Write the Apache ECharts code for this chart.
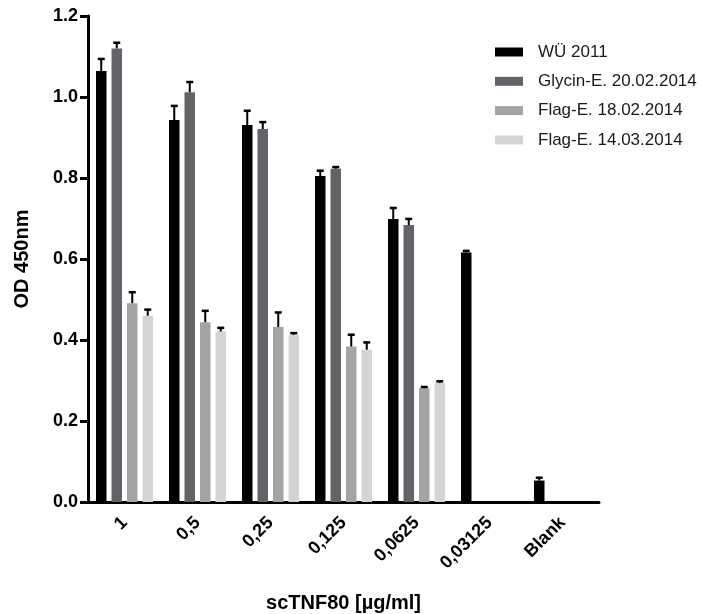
<!DOCTYPE html>
<html>
<head>
<meta charset="utf-8">
<script src="https://cdn.jsdelivr.net/npm/echarts@6/dist/echarts.min.js"></script>
<style>
  html, body { margin: 0; padding: 0; background: #fff; }
  #chart { width: 702px; height: 614px; }
</style>
</head>
<body>
<div id="chart"></div>
<script>
// Concentrations of scTNF80 on the x axis
const categories = ['1', '0,5', '0,25', '0,125', '0,0625', '0,03125', 'Blank'];

// Series names
const seriesNames = ['WÜ 2011', 'Glycin-E. 20.02.2014', 'Flag-E. 18.02.2014', 'Flag-E. 14.03.2014'];

// Mean OD 450nm values and their upper error (SD)
const wu2011     = [1.064, 0.943, 0.931, 0.805, 0.699, 0.616, 0.053];
const wu2011Err  = [0.030, 0.035, 0.035, 0.013, 0.027, 0.004, 0.007];
const glycin     = [1.120, 1.012, 0.921, 0.823, 0.684, null, null];
const glycinErr  = [0.014, 0.025, 0.017, 0.004, 0.015, null, null];
const flag18     = [0.491, 0.444, 0.432, 0.384, 0.281, null, null];
const flag18Err  = [0.027, 0.028, 0.036, 0.029, 0.003, null, null];
const flag14     = [0.460, 0.421, 0.413, 0.376, 0.294, null, null];
const flag14Err  = [0.015, 0.009, 0.004, 0.018, 0.004, null, null];

// Y ticks
const yMin = 0, yMax = 1.2, yStep = 0.2;

const means = [wu2011, glycin, flag18, flag14];
const errs = [wu2011Err, glycinErr, flag18Err, flag14Err];
const colors = ['#000000', '#646468', '#a4a4a4', '#d4d4d4'];

const BAR_W = 10.5;
const BAR_GAP = 5;
const FONT = '"Liberation Sans", Arial, Helvetica, sans-serif';

const chart = echarts.init(document.getElementById('chart'), null, { renderer: 'canvas' });

const barSeries = means.map((vals, i) => ({
  name: seriesNames[i],
  type: 'bar',
  data: vals,
  barWidth: BAR_W,
  barGap: (BAR_GAP / BAR_W * 100).toFixed(1) + '%',
  itemStyle: { color: colors[i] },
  z: 2
}));

// Upward error bars with a cap, placed over each bar of the group
const errSeries = means.map((vals, i) => {
  const data = [];
  vals.forEach((v, k) => {
    if (v != null && errs[i][k] != null) data.push([k, v, errs[i][k]]);
  });
  const offset = (i - (means.length - 1) / 2) * (BAR_W + BAR_GAP);
  return {
    type: 'custom',
    name: seriesNames[i] + ' SD',
    data: data,
    encode: { x: 0, y: 1 },
    z: 3,
    silent: true,
    renderItem: function (params, api) {
      const k = api.value(0);
      const base = api.coord([k, api.value(1)]);
      const top = api.coord([k, api.value(1) + api.value(2)]);
      const x = base[0] + offset;
      const capHalf = 3.5;
      return {
        type: 'group',
        children: [
          { type: 'line', shape: { x1: x, y1: base[1], x2: x, y2: top[1] },
            style: { stroke: '#000', lineWidth: 2 } },
          { type: 'line', shape: { x1: x - capHalf, y1: top[1], x2: x + capHalf, y2: top[1] },
            style: { stroke: '#000', lineWidth: 2.5 } }
        ]
      };
    }
  };
});

const option = {
  animation: false,
  backgroundColor: '#fff',
  grid: { left: 88, right: 103, top: 16, bottom: 112, containLabel: false, outerBoundsMode: 'none' },
  legend: {
    data: seriesNames,
    orient: 'vertical',
    left: 490,
    top: 38,
    itemWidth: 28,
    itemHeight: 9,
    itemGap: 11.3,
    icon: 'rect',
    textStyle: { fontFamily: FONT, fontSize: 17, color: '#1a1a1a', lineHeight: 18, padding: [0, 0, 0, 10] }
  },
  xAxis: {
    type: 'category',
    data: categories,
    name: 'scTNF80 [µg/ml]',
    nameLocation: 'middle',
    nameGap: 91,
    nameTextStyle: { fontFamily: FONT, fontSize: 20, fontWeight: 'bold', color: '#000' },
    axisLine: { lineStyle: { color: '#000', width: 3 } },
    axisTick: { alignWithLabel: true, length: 8, lineStyle: { color: '#000', width: 3 } },
    axisLabel: { rotate: 45, margin: 18, fontFamily: FONT, fontSize: 18, fontWeight: 'bold', color: '#000' },
    splitLine: { show: false }
  },
  yAxis: {
    type: 'value',
    min: yMin,
    max: yMax,
    interval: yStep,
    name: 'OD 450nm',
    nameLocation: 'middle',
    nameGap: 56,
    nameTextStyle: { fontFamily: FONT, fontSize: 20, fontWeight: 'bold', color: '#000' },
    axisLine: { show: true, lineStyle: { color: '#000', width: 3 } },
    axisTick: { show: true, length: 8, lineStyle: { color: '#000', width: 3 } },
    axisLabel: { margin: 10, fontFamily: FONT, fontSize: 18, fontWeight: 'bold', color: '#000',
      formatter: v => v.toFixed(1) },
    splitLine: { show: false }
  },
  series: barSeries.concat(errSeries)
};

chart.setOption(option);
</script>
</body>
</html>
